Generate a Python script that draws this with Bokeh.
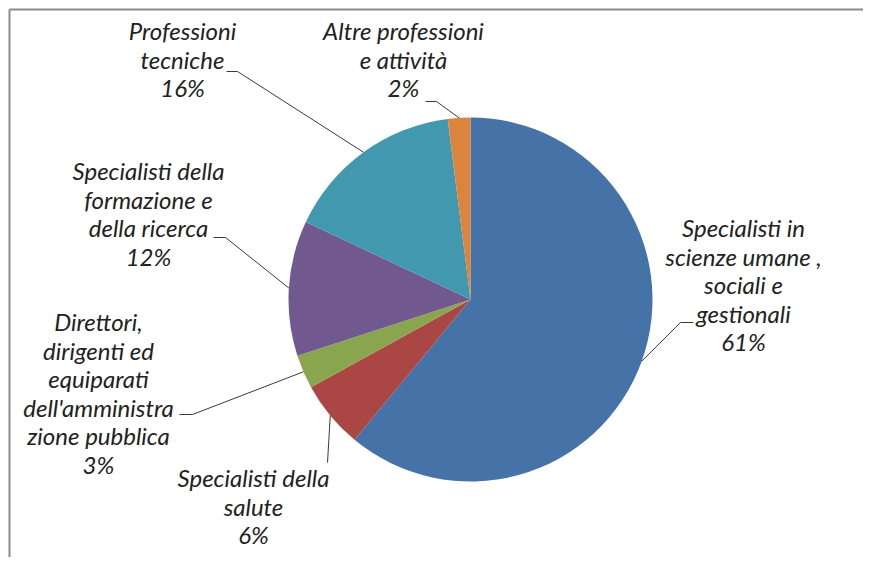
import math
from bokeh.plotting import figure
from bokeh.models import Range1d
from bokeh.core.properties import value
from bokeh.embed import file_html
from bokeh.resources import INLINE

# ---- data ----
categories = [
    "Specialisti in\nscienze umane ,\nsociali e\ngestionali",
    "Specialisti della\nsalute",
    "Direttori,\ndirigenti ed\nequiparati\ndell'amministra\nzione pubblica",
    "Specialisti della\nformazione e\ndella ricerca",
    "Professioni\ntecniche",
    "Altre professioni\ne attività",
]
shares = [61, 6, 3, 12, 16, 2]
colors = ["#4572A7", "#AA4643", "#89A54E", "#71588F", "#4198AF", "#DB843D"]

# ---- layout (screen pixel coordinates of reference) ----
FIG_W, FIG_H = 863, 557
CX, CY, R = 470, 299, 182
# label block centre x, first line centre y
label_pos = [(743, 227), (253, 477), (98, 321), (148, 170), (182, 30), (403, 30)]
# elbow point and end of horizontal tick of leader
leader_elbow = [(680, 322), None, (192, 414), (225, 237), (237, 71), (436, 101)]
leader_end = [(693, 322), (327, 462), (179, 414), (213, 237), (226, 71), (425, 101)]
LINE_H = 28.6


def sy(y):
    return FIG_H - y


p = figure(width=FIG_W, height=FIG_H, output_backend="svg",
           toolbar_location=None, x_range=Range1d(0, FIG_W),
           y_range=Range1d(0, FIG_H), min_border=0)
p.axis.visible = False
p.grid.visible = False
p.outline_line_color = None
p.background_fill_color = "white"
p.border_fill_color = "white"

# chart frame (top and left edges visible)
p.segment(x0=[9, 9], y0=[sy(9), sy(9)], x1=[FIG_W, 9], y1=[sy(9), 0],
          line_color="#8a8a8a", line_width=2)

total = float(sum(shares))
cum = 0.0
starts, ends, mids = [], [], []
for s in shares:
    a_end = math.pi / 2 - 2 * math.pi * cum / total
    cum += s
    a_start = math.pi / 2 - 2 * math.pi * cum / total
    starts.append(a_start)
    ends.append(a_end)
    mids.append((a_start + a_end) / 2)

p.wedge(x=[CX] * len(shares), y=[sy(CY)] * len(shares), radius=R,
        start_angle=starts, end_angle=ends, direction="anticlock",
        fill_color=colors, line_color=None)

# leader lines
for i, m in enumerate(mids):
    ex = CX + R * math.cos(m)
    ey = sy(CY) + R * math.sin(m)
    xs, ys = [ex], [ey]
    if leader_elbow[i] is not None:
        xs.append(leader_elbow[i][0])
        ys.append(sy(leader_elbow[i][1]))
    xs.append(leader_end[i][0])
    ys.append(sy(leader_end[i][1]))
    p.line(xs, ys, line_color="#3a3a3a", line_width=1)

# labels
tx, ty, tt = [], [], []
for i, (cat, s) in enumerate(zip(categories, shares)):
    lines = cat.split("\n") + [f"{s}%"]
    x0, y0 = label_pos[i]
    for k, ln in enumerate(lines):
        tx.append(x0)
        ty.append(sy(y0 + k * LINE_H))
        tt.append(ln)

p.text(x=tx, y=ty, text=tt, text_align="center", text_baseline="middle",
       text_font=value("Lato"), text_font_style="italic",
       text_font_size="24px", text_color="#222222")

open("out.html", "w").write(file_html(p, INLINE))
